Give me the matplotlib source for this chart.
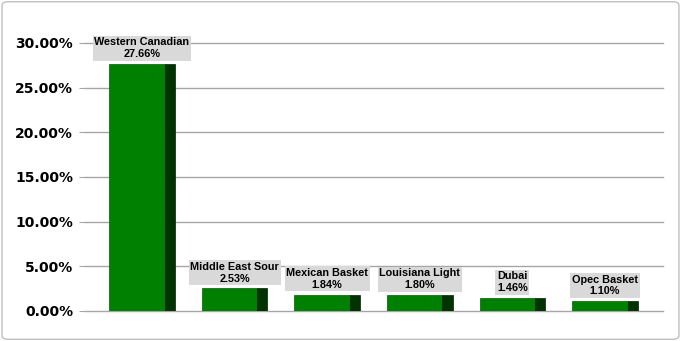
import numpy as np
import matplotlib.pyplot as plt
from matplotlib.patches import FancyBboxPatch

categories = ["Western Canadian", "Middle East Sour", "Mexican Basket", "Louisiana Light", "Dubai", "Opec Basket"]
values = [27.66, 2.53, 1.84, 1.80, 1.46, 1.10]
yticks = [0, 5, 10, 15, 20, 25, 30]

fig = plt.figure(figsize=(6.81, 3.41), dpi=100)
ax = fig.add_axes([85 / 681, 30 / 341, 578 / 681, 268 / 341])

x = np.arange(len(categories))
front_w = 0.60
side_w = 0.11
left = x - (front_w + side_w) / 2

# front face and darker side face for a flat 3d look
ax.bar(left, values, width=front_w, align="edge", color="#008000", edgecolor="#006000", linewidth=0.5, zorder=3)
ax.bar(left + front_w, values, width=side_w, align="edge", color="#003300", edgecolor="#002200", linewidth=0.5, zorder=3)

for xi, v, name in zip(x, values, categories):
    ax.annotate(name + "\n" + "{:.2f}%".format(v), (xi, v), xytext=(0, 3.5), textcoords="offset points",
                ha="center", va="bottom", fontsize=7.8, fontweight="bold", family="Liberation Sans",
                linespacing=1.2, zorder=5,
                bbox=dict(boxstyle="square,pad=0.15", facecolor="#d9d9d9", edgecolor="none"))

ax.set_ylim(0, 30)
ax.set_xlim(-0.615, 5.626)
ax.set_yticks(yticks)
ax.set_yticklabels(["{:.2f}%".format(t) for t in yticks], fontsize=10, fontweight="bold")
ax.set_xticks([])
ax.grid(axis="y", color="#a6a6a6", linewidth=1, zorder=0)
for gl in ax.get_ygridlines():
    gl.set_clip_on(False)
ax.tick_params(axis="y", length=4, color="#a6a6a6", pad=4.5)
for s in ax.spines.values():
    s.set_visible(False)

border = FancyBboxPatch((0.003, 0.005), 0.994, 0.99, boxstyle="round,pad=0,rounding_size=0.01",
                        transform=fig.transFigure, facecolor="none", edgecolor="#bfbfbf", linewidth=1)
fig.patches.append(border)

fig.savefig("out.png", dpi=100)
